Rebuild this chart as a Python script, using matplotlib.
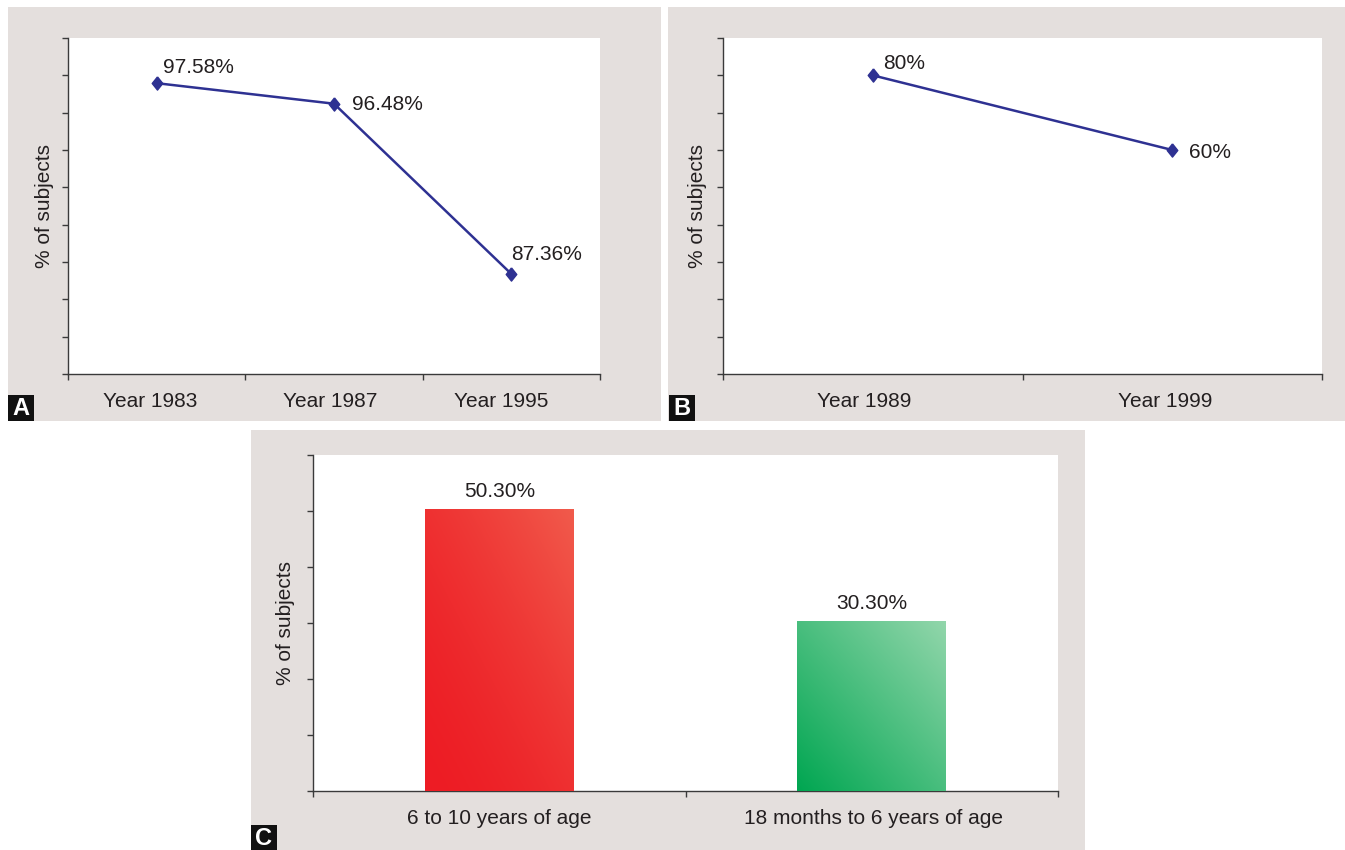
import numpy as np
import matplotlib
matplotlib.use("Agg")
import matplotlib.pyplot as plt
from matplotlib.patches import Rectangle
from matplotlib.colors import LinearSegmentedColormap
from matplotlib.transforms import ScaledTranslation

# ---------------- data ----------------
a_categories = ["Year 1983", "Year 1987", "Year 1995"]
a_values = [97.58, 96.48, 87.36]
a_labels = ["97.58%", "96.48%", "87.36%"]
a_yticks = list(range(82, 101, 2))

b_categories = ["Year 1989", "Year 1999"]
b_values = [80, 60]
b_labels = ["80%", "60%"]
b_yticks = list(range(0, 91, 10))

c_categories = ["6 to 10 years of age", "18 months to 6 years of age"]
c_values = [50.3, 30.3]
c_labels = ["50.30%", "30.30%"]
c_yticks = list(range(0, 61, 10))

# ---------------- style ----------------
W, H = 1345, 850
plt.rcParams['font.family'] = ['Liberation Sans', 'DejaVu Sans']
TEXT = "#231F20"
SPINE = "#3A3A3A"
PANEL = "#E4DFDD"
LINE = "#2E3192"
FS = 15
DIAMOND = [(0, 1), (0.8, 0), (0, -1), (-0.8, 0), (0, 1)]

fig = plt.figure(figsize=(W / 100, H / 100), dpi=100)
fig.patch.set_facecolor("white")


def rect(x0, y0, x1, y1):
    return [x0 / W, 1 - y1 / H, (x1 - x0) / W, (y1 - y0) / H]


def panel(x0, y0, x1, y1):
    l, b, w, h = rect(x0, y0, x1, y1)
    fig.patches.append(Rectangle((l, b), w, h, transform=fig.transFigure,
                                 facecolor=PANEL, edgecolor="none", zorder=-10))


def letter(x0, y0, s):
    l, b, w, h = rect(x0, y0, x0 + 26, y0 + 26)
    fig.patches.append(Rectangle((l, b), w, h, transform=fig.transFigure,
                                 facecolor="#111111", edgecolor="none", zorder=-5))
    fig.text(l + w / 2, b + h / 2 - 0.001, s, color="white", fontsize=17,
             fontweight="bold", ha="center", va="center", zorder=2)


panel(8, 7, 661, 421)
panel(668, 7, 1345, 421)
panel(251, 430, 1085, 850)
letter(8, 395, "A")
letter(669, 395, "B")
letter(251, 825, "C")


def style_axes(ax, n, yticks, ylabel_x):
    ax.set_facecolor("white")
    for s in ["top", "right"]:
        ax.spines[s].set_visible(False)
    for s in ["left", "bottom"]:
        ax.spines[s].set_color(SPINE)
        ax.spines[s].set_linewidth(1.0)
    ax.set_xlim(-0.5, n - 0.5)
    ax.set_ylim(yticks[0], yticks[-1])
    ax.set_yticks(yticks)
    ax.set_yticklabels([])
    ax.set_xticks(np.arange(n + 1) - 0.5)
    ax.set_xticklabels([])
    ax.tick_params(axis="both", which="major", direction="out", length=4,
                   width=1.0, color=SPINE)
    ax.set_ylabel("% of subjects", fontsize=FS, color=TEXT)
    ax.yaxis.set_label_coords(ylabel_x, 0.5)


def cat_labels(ax, cats, shifts):
    ax.set_xticks(np.arange(len(cats)), minor=True)
    ax.set_xticklabels(cats, minor=True, fontsize=FS, color=TEXT)
    ax.tick_params(axis="x", which="minor", length=0, pad=13)
    for lab, dx in zip(ax.get_xticklabels(minor=True), shifts):
        lab.set_transform(lab.get_transform() +
                          ScaledTranslation(dx / 100, 0, fig.dpi_scale_trans))


# ---------------- Panel A ----------------
axA = fig.add_axes(rect(68, 38, 600, 374))
style_axes(axA, len(a_categories), a_yticks, -0.027)
cat_labels(axA, a_categories, [-6, -4, -10])
xa = np.arange(len(a_categories))
axA.plot(xa, a_values, color=LINE, lw=1.8, marker=DIAMOND, markersize=9.5,
         markerfacecolor=LINE, markeredgecolor=LINE, clip_on=False)
a_offsets = [(6, 16), (18, -1), (0, 19)]
for x, v, lab, (dx, dy) in zip(xa, a_values, a_labels, a_offsets):
    axA.annotate(lab, (x, v), xytext=(dx * 0.72, dy * 0.72), textcoords="offset points",
                 ha="left", va="center", fontsize=FS, color=TEXT)

# ---------------- Panel B ----------------
axB = fig.add_axes(rect(723, 38, 1322, 374))
style_axes(axB, len(b_categories), b_yticks, -0.026)
cat_labels(axB, b_categories, [-9, -7])
xb = np.arange(len(b_categories))
axB.plot(xb, b_values, color=LINE, lw=1.8, marker=DIAMOND, markersize=9.5,
         markerfacecolor=LINE, markeredgecolor=LINE, clip_on=False)
b_offsets = [(10, 12), (17, -3)]
for x, v, lab, (dx, dy) in zip(xb, b_values, b_labels, b_offsets):
    axB.annotate(lab, (x, v), xytext=(dx * 0.72, dy * 0.72), textcoords="offset points",
                 ha="left", va="center", fontsize=FS, color=TEXT)

# ---------------- Panel C ----------------
axC = fig.add_axes(rect(313, 455, 1058, 791))
style_axes(axC, len(c_categories), c_yticks, -0.024)
cat_labels(axC, c_categories, [0, 2])
xc = np.arange(len(c_categories))
bar_colors = [("#ED1C24", "#F15B4C", 1.6), ("#00A651", "#92D6AB", 1.0)]
bars = axC.bar(xc, c_values, width=0.4, color=[c[0] for c in bar_colors],
               edgecolor="none", zorder=2)

gy, gx = np.mgrid[0:1:200j, 0:1:200j]
for patch, (c0, c1, gamma) in zip(bars.patches, bar_colors):
    cmap = LinearSegmentedColormap.from_list("g", [c0, c1])
    t = np.clip((gx + gy) / 2.0, 0, 1) ** gamma
    x0, y0 = patch.get_x(), patch.get_y()
    w, h = patch.get_width(), patch.get_height()
    im = axC.imshow(t, cmap=cmap, origin="lower", extent=[x0, x0 + w, y0, y0 + h],
                    aspect="auto", vmin=0, vmax=1, zorder=3, interpolation="bilinear")
    im.set_clip_path(patch)

axC.set_xlim(-0.5, len(c_categories) - 0.5)
axC.set_ylim(c_yticks[0], c_yticks[-1])
for x, v, lab in zip(xc, c_values, c_labels):
    axC.annotate(lab, (x, v), xytext=(0, 13), textcoords="offset points",
                 ha="center", va="center", fontsize=FS, color=TEXT)

fig.savefig("out.png", dpi=100, facecolor="white")
